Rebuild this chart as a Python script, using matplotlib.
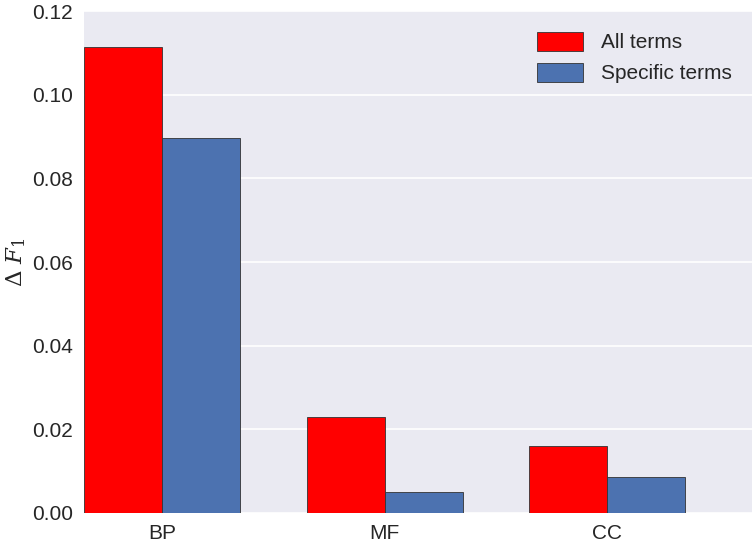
import numpy as np
import matplotlib
matplotlib.use("Agg")
import matplotlib.pyplot as plt

categories = ["BP", "MF", "CC"]
all_terms = [0.1115, 0.0230, 0.0161]
specific_terms = [0.0896, 0.0050, 0.0085]
series_labels = ["All terms", "Specific terms"]
yticks = [0.00, 0.02, 0.04, 0.06, 0.08, 0.10, 0.12]

plt.rcParams['font.family'] = ['Liberation Sans', 'DejaVu Sans']
plt.rcParams['mathtext.fontset'] = 'dejavuserif'

fig = plt.figure(figsize=(7.56, 5.52), dpi=100)
ax = fig.add_axes([0.111, 0.0707, 0.884, 0.909])
ax.set_facecolor('#EAEAF2')
for s in ax.spines.values():
    s.set_visible(False)
ax.grid(True, color='white', linewidth=1.2)
ax.set_axisbelow(True)

ind = np.arange(len(categories))
w = 0.35
ax.bar(ind, all_terms, w, align='edge', color='red', edgecolor='#333333', linewidth=0.6, label=series_labels[0])
ax.bar(ind + w, specific_terms, w, align='edge', color='#4C72B0', edgecolor='#333333', linewidth=0.6, label=series_labels[1])

ax.set_xlim(0, 3)
ax.set_ylim(0, 0.12)
ax.set_xticks(ind + w)
ax.set_xticklabels(categories)
ax.set_yticks(yticks)
ax.set_yticklabels([f"{v:.2f}" for v in yticks])
ax.tick_params(axis='both', length=0, labelsize=15, colors='#262626', pad=8)
ax.xaxis.grid(False)
ax.set_ylabel(r'$\Delta\ F_1$', fontsize=16.5, color='#262626')
ax.yaxis.set_label_coords(-0.083, 0.5)

leg = ax.legend(loc='upper right', frameon=False, fontsize=15, handlelength=2.2, handleheight=1.0,
                handletextpad=0.85, borderaxespad=0.6, labelspacing=0.5)
for t in leg.get_texts():
    t.set_color('#262626')

fig.savefig('out.png', dpi=100)
